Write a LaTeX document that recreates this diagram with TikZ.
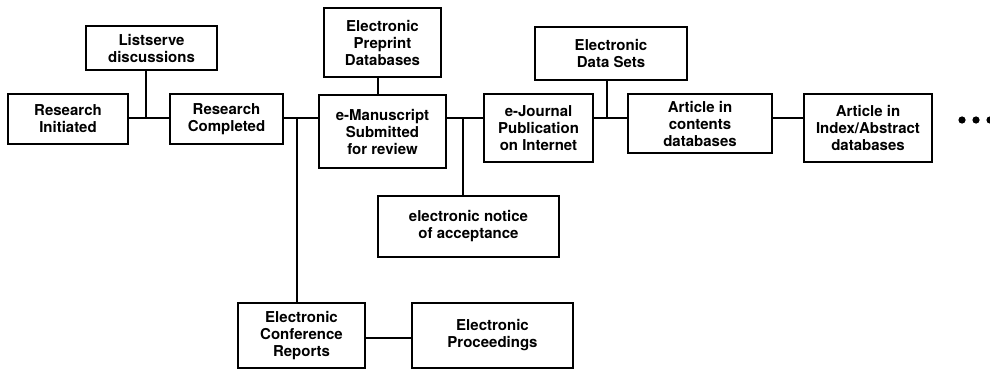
\documentclass[tikz,border=0pt]{standalone}
\usepackage{fontspec}
\setmainfont{TeX Gyre Heros}
\begin{document}
\begin{tikzpicture}[x=1pt,y=-1pt,
  box/.style={draw=black,line width=1.3pt,rectangle,inner sep=0pt,align=center,
    font=\bfseries\fontsize{15}{17}\selectfont},
  link/.style={draw=black,line width=2pt}]
\useasboundingbox (0,0) rectangle (990,369);

% stages of the publication chain
\node[box,minimum width=120,minimum height=50] (ri) at (68,119) {Research\\Initiated};
\node[box,minimum width=131,minimum height=44] (ls) at (151.5,48) {Listserve\\discussions};
\node[box,minimum width=113,minimum height=50] (rc) at (226.5,119) {Research\\Completed};
\node[box,minimum width=117,minimum height=69] (pp) at (382.5,42.5) {Electronic\\Preprint\\Databases};
\node[box,minimum width=127,minimum height=73] (em) at (382.5,131.5) {e-Manuscript\\Submitted\\for review};
\node[box,minimum width=109,minimum height=68] (ej) at (538.5,128) {e-Journal\\Publication\\on Internet};
\node[box,minimum width=181,minimum height=61] (no) at (468.5,226.5) {electronic notice\\of acceptance};
\node[box,minimum width=152,minimum height=53] (ds) at (611,53.5) {Electronic\\Data Sets};
\node[box,minimum width=144,minimum height=59] (ac) at (700,123.5) {Article in\\contents\\databases};
\node[box,minimum width=128,minimum height=68] (ai) at (868,128) {Article in\\Index/Abstract\\databases};
\node[box,minimum width=127,minimum height=65] (cr) at (301.5,335.5) {Electronic\\Conference\\Reports};
\node[box,minimum width=161,minimum height=65] (pr) at (492.5,335.5) {Electronic\\Proceedings};

% main line and branch points
\coordinate (spine) at (0,118);
\coordinate (jls) at (146,118);
\coordinate (jcr) at (297,118);
\coordinate (jno) at (463,118);
\coordinate (jds) at (607,118);
\coordinate (jpp) at (378,118);

\draw[link] (ri.east |- spine) -- (rc.west |- spine);
\draw[link] (jls |- ls.south) -- (jls);
\draw[link] (rc.east |- spine) -- (em.west |- spine);
\draw[link] (jcr) -- (jcr |- cr.north);
\draw[link] (jpp |- pp.south) -- (jpp |- em.north);
\draw[link] (em.east |- spine) -- (ej.west |- spine);
\draw[link] (jno) -- (jno |- no.north);
\draw[link] (ej.east |- spine) -- (ac.west |- spine);
\draw[link] (jds |- ds.south) -- (jds);
\draw[link] (ac.east |- spine) -- (ai.west |- spine);
\draw[link] (cr.east |- 0,338) -- (pr.west |- 0,338);

% continuation marks
\fill (962,120) circle (3.6);
\fill (976,120) circle (3.6);
\fill (990,120) circle (3.6);
\end{tikzpicture}
\end{document}
